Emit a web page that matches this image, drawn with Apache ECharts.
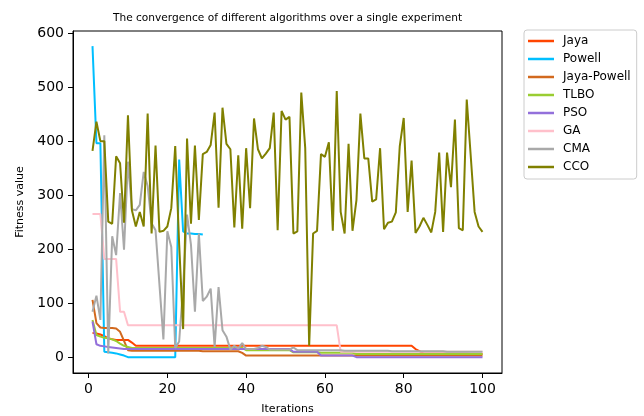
<!DOCTYPE html>
<html>
<head>
<meta charset="utf-8">
<script src="https://cdn.jsdelivr.net/npm/echarts@6/dist/echarts.min.js"></script>
<style>
html,body{margin:0;padding:0;background:#fff;}
#main{width:644px;height:416px;}
</style>
</head>
<body>
<div id="main"></div>
<script>
const titleText = "The convergence of different algorithms over a single experiment";
const xTicks = [0, 20, 40, 60, 80, 100];
const yTicks = [0, 100, 200, 300, 400, 500, 600];
const seriesNames = ["Jaya", "Powell", "Jaya-Powell", "TLBO", "PSO", "GA", "CMA", "CCO"];

const jaya = [46,45,43,40,36,34,33,33,33,33,28,22,
  22,22,22,22,22,22,22,22,22,22,22,22,22,22,22,22,22,22,22,22,22,22,22,22,22,22,22,22,22,22,22,22,22,22,22,22,22,22,22,22,22,22,22,22,22,22,22,22,22,22,22,22,22,22,22,22,22,22,22,22,22,22,22,22,22,22,22,22,22,22,
  16,12,8,
  8,8,8,8,8,8,8,8,8,8,8,7,7,7,7];

const powell = [577,397,397,11,10,9,8,6,4,1,
  1,1,1,1,1,1,1,1,1,1,1,1,
  367,234,230,230,229,229,228];

const jayaPowell = [107,64,56,55,55,55,54,48,31,14,
  13,13,13,13,13,13,13,13,13,13,13,13,13,13,13,13,13,13,12,12,12,12,12,12,12,12,12,12,
  9,
  4,4,4,4,4,4,4,4,4,4,4,4,4,4,4,4,4,4,4,4,4,4,4,4,4,4,4,4,4,4,4,4,4,4,4,4,4,4,4,4,4,4,4,4,4,4,4,4,4,4,4,4,4,4,4,4,4,4,4,4,4];

const tlbo = [70,42,39,37,36,34,31,26,22,20,
  18,18,18,18,18,18,18,18,18,18,18,18,18,18,18,18,18,18,18,18,18,18,18,18,18,18,18,18,18,
  14,14,14,14,14,14,14,14,14,14,14,14,
  10,10,10,10,10,10,10,
  9,9,9,9,9,9,9,9,9,
  7,7,7,7,7,7,7,7,7,7,7,7,7,7,7,7,7,7,7,7,7,7,7,7,7,7,7,7,7,7,7,7,7];

const pso = [67,25,22,21,20,19,18,17,16,16,
  16,16,16,16,16,16,16,16,16,16,16,16,16,16,16,16,16,16,16,16,16,16,16,16,16,16,16,16,16,16,16,16,16,16,16,16,16,16,16,16,16,
  11,11,11,11,11,11,11,
  4,4,4,4,4,4,4,4,4,
  1,1,1,1,1,1,1,1,1,1,1,1,1,1,1,1,1,1,1,1,1,1,1,1,1,1,1,1,1,1,1,1,1];

const ga = [266,266,266,183,183,183,183,85,85,
  60,60,60,60,60,60,60,60,60,60,60,60,60,60,60,60,60,60,60,60,60,60,60,60,60,60,60,60,60,60,60,60,60,60,60,60,60,60,60,60,60,60,60,60,60,60,60,60,60,60,60,60,60,60,
  11,11,11,11,11,11,11,11,11,11,11,11,11,11,11,11,11,11,11,11,11,11,11,11,11,11,11,11,11,11,11,11,11,11,11,11,11];

const cma = [85,115,70,412,8,225,190,305,200,363,
  275,273,283,344,318,249,236,135,34,234,
  205,18,30,130,265,209,85,230,105,113,
  128,20,131,51,39,15,22,17,27,16,
  16,16,18,22,20,15,15,15,15,15,
  15,19,14,14,14,14,14,14,14,14,
  14,14,14,14,13,13,13,13,13,13,
  13,13,13,13,13,13,12,12,12,12,
  12,12,12,12,12,12,12,12,12,12,
  11,11,11,11,11,11,11,11,11,11];

const cco = [383,437,401,401,252,248,373,360,250,449,
  273,243,270,243,452,230,393,233,235,243,
  277,392,210,53,406,248,393,255,377,381,
  394,454,278,463,396,386,241,375,239,388,
  277,443,386,369,378,388,454,236,457,441,
  446,230,234,491,388,22,230,235,377,372,
  399,235,494,270,230,396,235,292,452,369,
  369,289,293,388,238,250,252,269,392,444,
  270,365,231,243,259,246,232,270,380,233,
  380,316,441,240,236,478,375,270,243,233];

const colors = ["#FF4500", "#00BFFF", "#D2691E", "#9ACD32", "#9370DB", "#FFC0CB", "#A9A9A9", "#808000"];
const allData = [jaya, powell, jayaPowell, tlbo, pso, ga, cma, cco];

const font = "DejaVu Sans";
const chart = echarts.init(document.getElementById('main'), null, {renderer: 'canvas'});

const series = seriesNames.map((name, k) => ({
  name: name,
  type: 'line',
  data: allData[k].map((v, i) => [i + 1, v]),
  showSymbol: false,
  symbol: 'none',
  lineStyle: {width: 2, color: colors[k]},
  itemStyle: {color: colors[k]},
  silent: true,
  z: 2 + k
}));

chart.setOption({
  animation: false,
  backgroundColor: '#fff',
  title: {
    text: titleText,
    left: 282.5,
    top: 8,
    textAlign: 'center',
    textStyle: {fontFamily: font, fontSize: 10.6, fontWeight: 'normal', color: '#000'}
  },
  grid: {
    left: 73, right: 142, top: 31, bottom: 43,
    containLabel: false,
    outerBoundsMode: 'none',
    show: true, borderColor: '#000', borderWidth: 1, backgroundColor: 'transparent'
  },
  legend: {
    orient: 'vertical',
    left: 524,
    top: 30,
    data: seriesNames,
    icon: 'rect',
    itemWidth: 26,
    itemHeight: 2.5,
    itemGap: 4,
    padding: [4, 6, 5, 4],
    borderColor: '#cccccc',
    borderWidth: 1,
    borderRadius: 3,
    backgroundColor: '#fff',
    textStyle: {fontFamily: font, fontSize: 12, color: '#000', lineHeight: 14, padding: [0, 0, 0, 4]}
  },
  xAxis: {
    type: 'value',
    min: -3.95,
    max: 104.95,
    name: 'Iterations',
    nameLocation: 'middle',
    nameGap: 31,
    nameMoveOverlap: false,
    nameTextStyle: {fontFamily: font, fontSize: 11, color: '#000'},
    axisLine: {show: true, onZero: false, lineStyle: {color: '#000', width: 1}},
    axisTick: {show: true, length: 5, inside: false, customValues: xTicks, lineStyle: {color: '#000'}},
    axisLabel: {show: true, margin: 9, customValues: xTicks, fontFamily: font, fontSize: 14, color: '#000'},
    splitLine: {show: false}
  },
  yAxis: {
    type: 'value',
    min: -28.3,
    max: 605,
    name: 'Fitness value',
    nameLocation: 'middle',
    nameGap: 47,
    nameMoveOverlap: false,
    nameTextStyle: {fontFamily: font, fontSize: 11, color: '#000'},
    axisLine: {show: true, onZero: false, lineStyle: {color: '#000', width: 1}},
    axisTick: {show: true, length: 5, inside: false, customValues: yTicks, lineStyle: {color: '#000'}},
    axisLabel: {show: true, margin: 9, customValues: yTicks, fontFamily: font, fontSize: 14, color: '#000'},
    splitLine: {show: false}
  },
  series: series
});
</script>
</body>
</html>
